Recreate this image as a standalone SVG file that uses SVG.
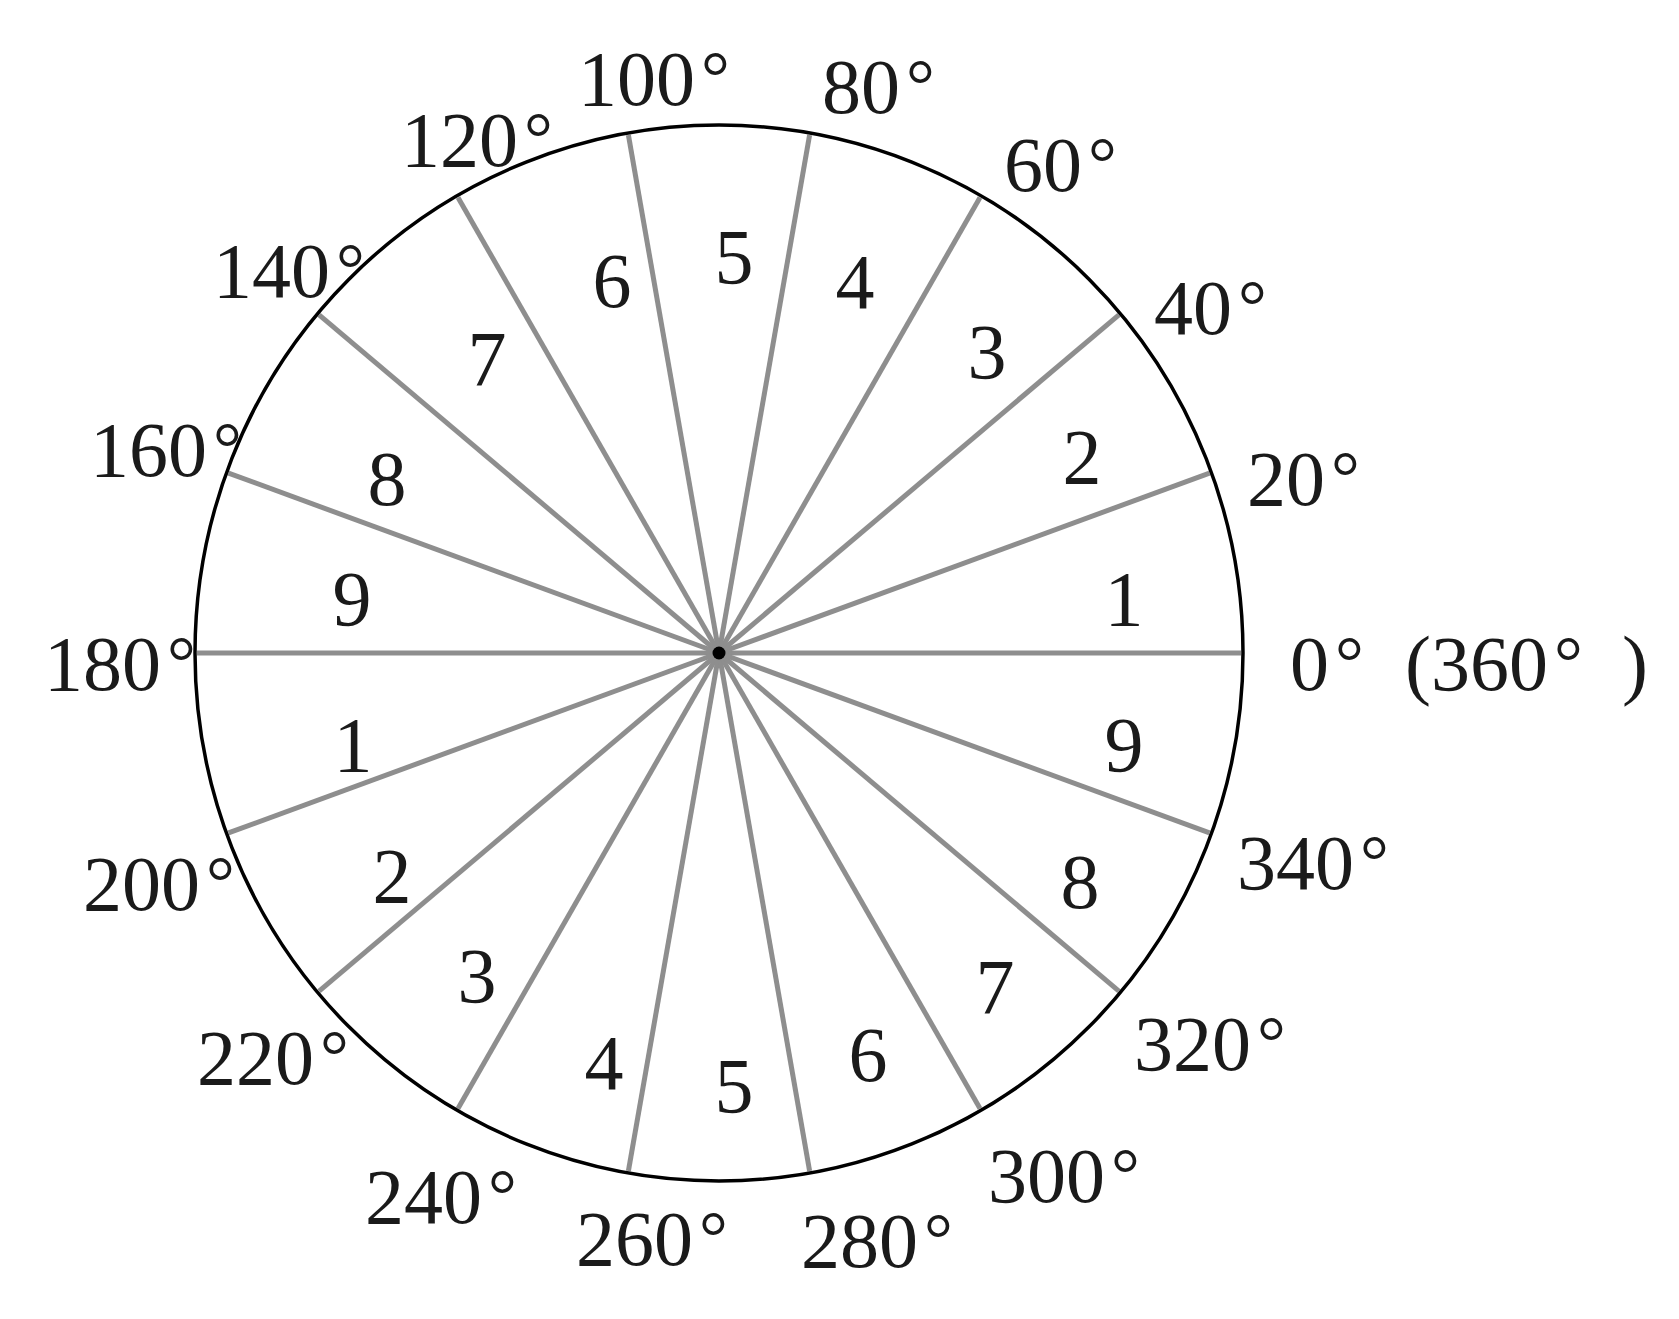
<svg xmlns="http://www.w3.org/2000/svg" width="1679" height="1319" viewBox="0 0 1679 1319">
<style>
.t{font-family:"Liberation Serif","Times New Roman",serif;font-size:78px;fill:#1a1a1a}
.n{font-family:"Liberation Serif","Times New Roman",serif;font-size:78px;fill:#1a1a1a;text-anchor:middle}
.d{font-size:72px}
.sp{stroke:#8e8e8e;stroke-width:5;stroke-linecap:butt}
</style>
<rect width="1679" height="1319" fill="#fff"/>
<g id="connectors">
<line class="sp" x1="719" y1="653" x2="1241" y2="653"/>
<line class="sp" x1="719" y1="653" x2="1209.5" y2="473.1"/>
<line class="sp" x1="719" y1="653" x2="1118.9" y2="314.9"/>
<line class="sp" x1="719" y1="653" x2="980" y2="197.5"/>
<line class="sp" x1="719" y1="653" x2="809.6" y2="135"/>
<line class="sp" x1="719" y1="653" x2="628.4" y2="135"/>
<line class="sp" x1="719" y1="653" x2="458" y2="197.5"/>
<line class="sp" x1="719" y1="653" x2="319.1" y2="314.9"/>
<line class="sp" x1="719" y1="653" x2="228.5" y2="473.1"/>
<line class="sp" x1="719" y1="653" x2="197" y2="653"/>
<line class="sp" x1="719" y1="653" x2="228.5" y2="832.9"/>
<line class="sp" x1="719" y1="653" x2="319.1" y2="991.1"/>
<line class="sp" x1="719" y1="653" x2="458" y2="1108.5"/>
<line class="sp" x1="719" y1="653" x2="628.4" y2="1171"/>
<line class="sp" x1="719" y1="653" x2="809.6" y2="1171"/>
<line class="sp" x1="719" y1="653" x2="980" y2="1108.5"/>
<line class="sp" x1="719" y1="653" x2="1118.9" y2="991.1"/>
<line class="sp" x1="719" y1="653" x2="1209.5" y2="832.9"/>
</g>
<g id="circle">
<ellipse cx="719" cy="653" rx="524" ry="528" fill="none" stroke="#000" stroke-width="3.5"/>
<circle cx="719" cy="653" r="6.5" fill="#000"/>
</g>
<g id="angle-labels">
<text class="t" x="578" y="105">100<tspan class="d" dx="6" dy="-4">°</tspan></text>
<text class="t" x="401" y="166">120<tspan class="d" dx="6" dy="-4">°</tspan></text>
<text class="t" x="213" y="297">140<tspan class="d" dx="6" dy="-4">°</tspan></text>
<text class="t" x="90" y="476">160<tspan class="d" dx="6" dy="-4">°</tspan></text>
<text class="t" x="44" y="690">180<tspan class="d" dx="6" dy="-4">°</tspan></text>
<text class="t" x="822" y="113">80<tspan class="d" dx="6" dy="-4">°</tspan></text>
<text class="t" x="1004" y="191">60<tspan class="d" dx="6" dy="-4">°</tspan></text>
<text class="t" x="1154" y="334">40<tspan class="d" dx="6" dy="-4">°</tspan></text>
<text class="t" x="1247" y="505">20<tspan class="d" dx="6" dy="-4">°</tspan></text>
<text class="t" x="1290" y="690">0<tspan class="d" dx="6" dy="-4">°</tspan><tspan x="1405" dy="4">(</tspan><tspan x="1431">360</tspan><tspan class="d" dx="6" dy="-4">°</tspan><tspan x="1622" dy="4">)</tspan></text>
<text class="t" x="83" y="910">200<tspan class="d" dx="6" dy="-4">°</tspan></text>
<text class="t" x="197" y="1084">220<tspan class="d" dx="6" dy="-4">°</tspan></text>
<text class="t" x="365" y="1223">240<tspan class="d" dx="6" dy="-4">°</tspan></text>
<text class="t" x="576" y="1265">260<tspan class="d" dx="6" dy="-4">°</tspan></text>
<text class="t" x="801" y="1267">280<tspan class="d" dx="6" dy="-4">°</tspan></text>
<text class="t" x="988" y="1202">300<tspan class="d" dx="6" dy="-4">°</tspan></text>
<text class="t" x="1134" y="1070">320<tspan class="d" dx="6" dy="-4">°</tspan></text>
<text class="t" x="1237" y="889">340<tspan class="d" dx="6" dy="-4">°</tspan></text>
</g>
<g id="sector-numbers">
<text class="n" x="1124" y="625">1</text>
<text class="n" x="1082" y="483">2</text>
<text class="n" x="987" y="378">3</text>
<text class="n" x="855" y="308">4</text>
<text class="n" x="734" y="283">5</text>
<text class="n" x="612" y="307">6</text>
<text class="n" x="487" y="385">7</text>
<text class="n" x="387" y="505">8</text>
<text class="n" x="352" y="625">9</text>
<text class="n" x="353" y="771">1</text>
<text class="n" x="392" y="902">2</text>
<text class="n" x="477" y="1002">3</text>
<text class="n" x="604" y="1089">4</text>
<text class="n" x="734" y="1112">5</text>
<text class="n" x="868" y="1081">6</text>
<text class="n" x="995" y="1013">7</text>
<text class="n" x="1080" y="908">8</text>
<text class="n" x="1124" y="771">9</text>
</g>
</svg>
